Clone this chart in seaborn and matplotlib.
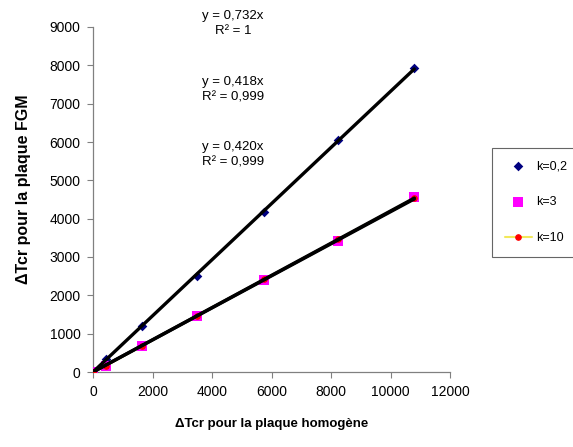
import matplotlib
matplotlib.use("Agg")
import matplotlib.pyplot as plt
import seaborn as sns
import numpy as np
import pandas as pd

# Critical temperature differences: homogeneous plate (x) vs FGM plate (y)
dt_homogene = [0, 450, 1660, 3480, 5760, 8250, 10800]
dt_fgm_k02 = [0, 330, 1200, 2510, 4180, 6050, 7930]
dt_fgm_k3 = [0, 160, 680, 1460, 2400, 3420, 4560]
dt_fgm_k10 = [0, 165, 690, 1465, 2415, 3460, 4540]

series_labels = ["k=0,2", "k=3", "k=10"]
slopes = [0.732, 0.418, 0.420]
r2_values = ["1", "0,999", "0,999"]

x_ticks = [0, 2000, 4000, 6000, 8000, 10000, 12000]
y_ticks = [0, 1000, 2000, 3000, 4000, 5000, 6000, 7000, 8000, 9000]

sns.set_style("white")
plt.rcParams["font.family"] = ["Liberation Sans", "DejaVu Sans"]
plt.rcParams["text.color"] = "black"
plt.rcParams["xtick.color"] = "black"
plt.rcParams["ytick.color"] = "black"
plt.rcParams["axes.labelcolor"] = "black"

df = pd.DataFrame({
    "x": dt_homogene * 3,
    "y": dt_fgm_k02 + dt_fgm_k3 + dt_fgm_k10,
    "k": [series_labels[0]] * 7 + [series_labels[1]] * 7 + [series_labels[2]] * 7,
})

fig = plt.figure(figsize=(5.73, 4.47), dpi=100)
ax = fig.add_axes([93 / 573, 1 - 372 / 447, (450 - 93) / 573, (372 - 27) / 447])

# data series
sub = df[df.k == series_labels[0]]
sns.scatterplot(data=sub, x="x", y="y", ax=ax, marker="D", s=24, color="#000080",
                edgecolor="#000080", linewidth=0, zorder=3, label=series_labels[0])
sub = df[df.k == series_labels[1]]
sns.scatterplot(data=sub, x="x", y="y", ax=ax, marker="s", s=45, color="#FF00FF",
                edgecolor="#FF00FF", linewidth=0, zorder=3, label=series_labels[1])
sub = df[df.k == series_labels[2]]
sns.lineplot(data=sub, x="x", y="y", ax=ax, color="#F2E85A", linewidth=1.5,
             marker="o", markersize=4, markerfacecolor="red", markeredgecolor="red",
             zorder=3, label=series_labels[2])

# linear trendlines through the origin
xs = np.array([0, max(dt_homogene)])
for s in slopes:
    ax.plot(xs, s * xs, color="black", linewidth=2.4, zorder=4, solid_capstyle="round")

# trendline equations
for s, r2, yy in zip(slopes, r2_values, [9092, 7357, 5661]):
    txt = f"y = {s:.3f}x".replace(".", ",") + f"\nR² = {r2}"
    ax.text(4706, yy, txt, ha="center", va="center", fontsize=9.5,
            linespacing=1.4, clip_on=False)

ax.set_xlim(0, 12000)
ax.set_ylim(0, 9000)
ax.set_xticks(x_ticks)
ax.set_yticks(y_ticks)
ax.tick_params(axis="both", labelsize=10, length=4, width=0.8, color="#808080",
               labelcolor="black", direction="out", bottom=True, left=True, pad=5)
for side in ["top", "right"]:
    ax.spines[side].set_visible(False)
for side in ["left", "bottom"]:
    ax.spines[side].set_color("#808080")
    ax.spines[side].set_linewidth(0.9)

ax.set_xlabel("ΔTcr pour la plaque homogène", fontsize=9.5, fontweight="bold",
              family=["Liberation Sans Narrow", "Liberation Sans", "DejaVu Sans"], labelpad=14)
ax.set_ylabel("ΔTcr pour la plaque FGM", fontsize=11.5, fontweight="bold",
              family=["Liberation Sans Narrow", "Liberation Sans", "DejaVu Sans"], labelpad=10)
ax.yaxis.set_label_coords(-0.175, 0.53)

handles, labels = ax.get_legend_handles_labels()
if ax.legend_:
    ax.legend_.remove()
leg = fig.legend(handles, labels, loc="upper left",
                 bbox_to_anchor=(492 / 573, 1 - 148 / 447), fontsize=9,
                 labelspacing=1.9, handlelength=2.2, handletextpad=0.3,
                 borderpad=1.0, fancybox=False, frameon=True, borderaxespad=0)
leg.get_frame().set_edgecolor("#404040")
leg.get_frame().set_linewidth(0.8)

fig.savefig("out.png", dpi=100)
